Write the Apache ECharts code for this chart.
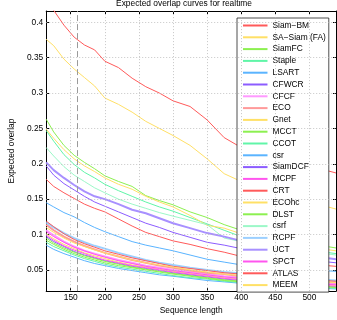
<!DOCTYPE html>
<html><head><meta charset="utf-8">
<script src="https://cdn.jsdelivr.net/npm/echarts@6/dist/echarts.min.js"></script>
<style>html,body{margin:0;padding:0;background:#fff}#c{width:337px;height:320px}</style>
</head><body><div id="c"></div>
<script>
// ---- data ----
const sequenceLength = [114,125,140,155,170,185,200,220,240,260,280,300,325,350,375,400,450,500,539];
const siamBM   = [.432,.417,.396,.379,.368,.361,.345,.336,.321,.309,.300,.289,.281,.262,.237,.223,.208,.197,.187];
const saSiamFA = [.376,.367,.348,.334,.322,.310,.293,.284,.273,.260,.250,.240,.226,.207,.186,.175,.160,.146,.136];
const siamFC   = [.263,.245,.226,.212,.202,.193,.183,.175,.168,.155,.148,.142,.132,.124,.114,.106,.095,.087,.081];
const staple   = [.247,.232,.213,.199,.188,.180,.171,.162,.154,.146,.139,.133,.124,.115,.106,.097,.086,.078,.073];
const lsart    = [.085,.079,.073,.068,.063,.059,.056,.052,.049,.046,.043,.041,.038,.035,.033,.031,.028,.025,.023];
const cfwcr    = [.097,.090,.083,.076,.071,.067,.063,.059,.055,.052,.049,.046,.043,.040,.037,.035,.031,.028,.026];
const cfcf     = [.106,.099,.090,.083,.077,.073,.069,.064,.060,.056,.053,.050,.047,.044,.041,.039,.035,.032,.030];
const eco      = [.114,.106,.097,.090,.084,.079,.074,.069,.064,.060,.056,.053,.049,.046,.044,.041,.037,.034,.032];
const gnet     = [.101,.094,.086,.080,.074,.070,.066,.061,.057,.054,.051,.048,.045,.042,.039,.037,.033,.030,.028];
const mcct     = [.095,.088,.081,.075,.070,.066,.062,.058,.054,.051,.048,.045,.042,.039,.036,.034,.031,.028,.026];
const ccot     = [.089,.083,.077,.071,.066,.062,.058,.054,.051,.048,.045,.042,.039,.037,.034,.032,.029,.026,.024];
const csr      = [.145,.139,.131,.125,.117,.110,.104,.097,.090,.085,.081,.077,.071,.065,.061,.057,.053,.050,.048];
const siamDCF  = [.197,.184,.172,.163,.154,.146,.140,.132,.124,.116,.110,.103,.096,.089,.085,.080,.070,.064,.060];
const mcpf     = [.099,.092,.084,.078,.073,.068,.064,.060,.056,.053,.050,.047,.044,.041,.038,.036,.032,.029,.027];
const crt      = [.178,.168,.159,.151,.143,.137,.132,.122,.112,.103,.097,.091,.086,.080,.075,.069,.063,.058,.055];
const ecohc    = [.249,.236,.220,.207,.197,.189,.180,.171,.164,.154,.146,.139,.127,.113,.109,.101,.090,.082,.077];
const dlst     = [.092,.086,.079,.073,.068,.064,.060,.056,.053,.050,.047,.044,.041,.038,.035,.033,.030,.027,.025];
const csrf     = [.223,.211,.196,.184,.175,.166,.159,.150,.143,.137,.131,.126,.120,.114,.095,.090,.082,.076,.071];
const rcpf     = [.117,.110,.102,.095,.089,.084,.080,.074,.069,.064,.060,.057,.053,.050,.047,.045,.041,.037,.035];
const uct      = [.202,.191,.180,.170,.161,.154,.150,.143,.135,.130,.123,.116,.109,.102,.097,.091,.079,.070,.065];
const spct     = [.104,.097,.089,.082,.077,.072,.068,.063,.059,.055,.052,.049,.046,.043,.040,.038,.034,.031,.029];
const atlas    = [.119,.111,.101,.093,.087,.082,.077,.072,.067,.063,.059,.055,.052,.049,.046,.044,.040,.036,.034];
const meem     = [.110,.103,.095,.088,.083,.078,.074,.069,.064,.060,.057,.054,.050,.047,.044,.042,.038,.035,.032];

const trackerNames = ['Siam\u2212BM','SA\u2212Siam (FA)','SiamFC','Staple','LSART','CFWCR','CFCF','ECO','Gnet','MCCT','CCOT','csr','SiamDCF','MCPF','CRT','ECOhc','DLST','csrf','RCPF','UCT','SPCT','ATLAS','MEEM'];
const trackerValues = [siamBM,saSiamFA,siamFC,staple,lsart,cfwcr,cfcf,eco,gnet,mcct,ccot,csr,siamDCF,mcpf,crt,ecohc,dlst,csrf,rcpf,uct,spct,atlas,meem];

const xTickValues = [150,200,250,300,350,400,450,500];
const yTickValues = [0.05,0.1,0.15,0.2,0.25,0.3,0.35,0.4];
const markedLength = 160;

// ---- styles ----
const RED='#ff5a5a', YEL='#ffe066', GRN='#8cf050', MNT='#60f5a8', BLU='#5ab4ff', PUR='#8c5cff', MAG='#ff55ee';
const lineStyles = [
  {c:RED,w:1},{c:YEL,w:1},{c:GRN,w:1},{c:MNT,w:1},{c:BLU,w:1},{c:PUR,w:1},{c:'#ff99ff',w:2},
  {c:'#ff9a9a',w:2},{c:YEL,w:1},{c:GRN,w:1},{c:MNT,w:1},{c:BLU,w:1},{c:PUR,w:1},{c:MAG,w:1},
  {c:RED,w:1},{c:YEL,w:1},{c:GRN,w:1},{c:'#9cf8c8',w:1},{c:'#9cd0ff',w:2},{c:'#a890ff',w:2},{c:MAG,w:1},
  {c:RED,w:1},{c:YEL,w:1}
];
const FONT = 'Liberation Sans, Arial, Helvetica, sans-serif';
const XMIN=114, XMAX=539, YMIN=0.02, YMAX=0.416;

const series = trackerNames.map((n,i)=>({
  name:n, type:'line', symbol:'none', z:3, silent:true,
  lineStyle:{color:lineStyles[i].c, width:lineStyles[i].w},
  itemStyle:{color:lineStyles[i].c, opacity:0},
  data: sequenceLength.map((x,k)=>[x, trackerValues[i][k]])
}));
series.unshift({
  name:'__grid', type:'line', data:[], z:1, silent:true,
  markLine:{silent:true, symbol:['none','none'], label:{show:false}, animation:false,
    lineStyle:{color:'#b8b8b8', type:[1,2], width:0.8},
    emphasis:{disabled:true},
    data: xTickValues.map(v=>({xAxis:v})).concat(yTickValues.map(v=>({yAxis:v})))
      .concat([{xAxis:markedLength, lineStyle:{color:'#9a9a9a', type:[6,3], width:1}}])
  }
});

const fmtY = v => String(+(+v).toFixed(2));
const chart = echarts.init(document.getElementById('c'), null, {renderer:'canvas'});
chart.setOption({
  animation:false,
  backgroundColor:'#fff',
  textStyle:{fontFamily:FONT},
  title:{text:'Expected overlap curves for realtime', left:184, top:0, padding:0, textAlign:'center',
    textStyle:{fontSize:8.4, fontWeight:'normal', color:'#000', fontFamily:FONT}},
  grid:{left:32, top:11, width:304, height:286, containLabel:false},
  legend:{orient:'vertical', left:237, top:18, padding:[2.5,3,2,5], itemWidth:24.5, itemHeight:9, itemGap:1.8,
    backgroundColor:'#fff', borderColor:'#222', borderWidth:0.8, selectedMode:false,
    itemStyle:{opacity:0},
    textStyle:{fontSize:8.4, color:'#000', fontFamily:FONT, lineHeight:10},
    data: trackerNames},
  xAxis:[
    {type:'value', min:XMIN, max:XMAX, position:'bottom',
     name:'Sequence length', nameLocation:'middle', nameGap:13,
     nameTextStyle:{fontSize:8.4, color:'#000', fontFamily:FONT},
     axisLine:{lineStyle:{color:'#000', width:1}},
     axisTick:{inside:true, length:3, customValues:xTickValues, lineStyle:{color:'#000'}},
     axisLabel:{customValues:xTickValues, fontSize:8.4, color:'#000', margin:3, fontFamily:FONT},
     splitLine:{show:false}},
    {type:'value', min:XMIN, max:XMAX, position:'top',
     axisLine:{lineStyle:{color:'#000', width:1}},
     axisTick:{inside:true, length:3, customValues:xTickValues, lineStyle:{color:'#000'}},
     axisLabel:{show:false}, splitLine:{show:false}}
  ],
  yAxis:[
    {type:'value', min:YMIN, max:YMAX, position:'left',
     name:'Expected overlap', nameLocation:'middle', nameGap:21,
     nameTextStyle:{fontSize:8.4, color:'#000', fontFamily:FONT},
     axisLine:{show:true, lineStyle:{color:'#000', width:1}},
     axisTick:{show:true, inside:true, length:3, customValues:yTickValues, lineStyle:{color:'#000'}},
     axisLabel:{customValues:yTickValues, formatter:fmtY, fontSize:8.4, color:'#000', margin:3, fontFamily:FONT},
     splitLine:{show:false}},
    {type:'value', min:YMIN, max:YMAX, position:'right',
     axisLine:{show:true, lineStyle:{color:'#000', width:1}},
     axisTick:{show:true, inside:true, length:3, customValues:yTickValues, lineStyle:{color:'#000'}},
     axisLabel:{show:false}, splitLine:{show:false}}
  ],
  series: series
});
</script></body></html>
